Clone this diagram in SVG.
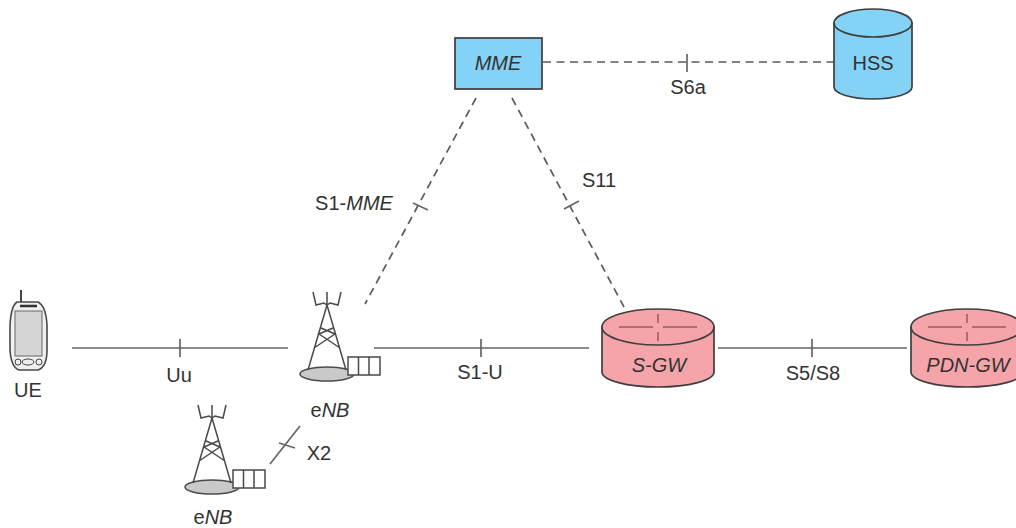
<svg xmlns="http://www.w3.org/2000/svg" width="1016" height="528" viewBox="0 0 1016 528">
<style>
text{font-family:"Liberation Sans",Arial,sans-serif;font-size:20px;fill:#333;text-anchor:middle}
.i{font-style:italic}
.l{stroke:#666;stroke-width:1.7;fill:none}
.d{stroke:#5a5a5a;stroke-width:1.7;fill:none;stroke-dasharray:8 5.5}
.o{stroke:#3e3e3e;stroke-width:1.7}
.t{stroke:#4a4a4a;stroke-width:1.5;fill:none}
.blue{fill:#84d2f6}
.red{fill:#f5a5a9}
</style>
<defs>
<g id="tower">
<ellipse cx="0" cy="69" rx="27" ry="7" fill="#c9c9c9" stroke="#4a4a4a" stroke-width="1.5"/>
<path class="t" d="M0 0L-19 65M0 0L19 65M-6 23L8 29M6 23L-8 29M-8 29L13 43M8 29L-13 43"/>
<path class="t" d="M-14 -13L-11 0L-3 -2L0 0L3 -2L11 0L14 -13M0 -13V-1"/>
<rect x="21" y="52" width="32" height="18" fill="#fff" stroke="#4a4a4a" stroke-width="1.5"/>
<path class="t" d="M31.500 52V70M42 52V70"/>
</g>
<g id="drum">
<path d="M-56 0V45A56 15 0 0 0 56 45V0Z" class="red o"/>
<ellipse cx="0" cy="0" rx="56" ry="18" class="red o"/>
<path d="M-39 0H-5M5 0H39M0 -13V-4M0 5V14" stroke="#9a5a60" stroke-width="1.5" fill="none"/>
</g>
</defs>
<g id="connectors">
<path class="l" d="M72 348H288M180 339V357"/>
<path class="l" d="M374 348H589M481 339V357"/>
<path class="l" d="M718 348H907M812 339V357"/>
<path class="l" d="M270 464L300 426M279 443L295 448"/>
<path class="d" d="M543 62H834"/>
<path class="l" d="M687 54V72"/>
<path class="d" d="M476 98L365 304"/>
<path class="l" d="M413 203L428 210"/>
<path class="d" d="M512 98L624 307"/>
<path class="l" d="M564 209L579 201"/>
</g>
<g id="ue">
<path d="M21 290V303" stroke="#444" stroke-width="2" fill="none"/>
<path d="M17 302H38Q46 306 47 325V350Q47 367 38 370H19Q11 367 10 350V325Q11 306 17 302Z" fill="#f0f0f0" stroke="#4a4a4a" stroke-width="1.6"/>
<rect x="15" y="311" width="27" height="45" fill="#d6d6d6" stroke="#666"/>
<path d="M20 306H37" stroke="#333" stroke-width="2.500"/>
<ellipse cx="28" cy="362" rx="6" ry="3" fill="#eee" stroke="#444"/>
<circle cx="18" cy="362" r="3" fill="#eee" stroke="#444"/>
<circle cx="39" cy="362" r="3" fill="#eee" stroke="#444"/>
<text x="28" y="397">UE</text>
</g>
<g id="enb1">
<use href="#tower" x="327" y="305"/>
<text x="330" y="417">e<tspan class="i">NB</tspan></text>
</g>
<g id="enb2">
<use href="#tower" x="212" y="418"/>
<text x="213" y="523.500">e<tspan class="i">NB</tspan></text>
</g>
<g id="mme">
<rect x="455" y="38" width="87" height="51" class="blue o"/>
<text x="498" y="70" class="i">MME</text>
</g>
<g id="hss">
<path d="M834 23V87A39 12 0 0 0 912 87V23Z" class="blue o"/>
<ellipse cx="873" cy="23" rx="39" ry="14" class="blue o"/>
<text x="873" y="70">HSS</text>
</g>
<g id="sgw">
<use href="#drum" x="658" y="327"/>
<text x="659" y="372" class="i">S-GW</text>
</g>
<g id="pdngw">
<use href="#drum" x="967" y="327"/>
<text x="968" y="372" class="i">PDN-GW</text>
</g>
<g id="labels">
<text x="179" y="382">Uu</text>
<text x="480" y="379">S1-U</text>
<text x="813" y="380">S5/S8</text>
<text x="688" y="94">S6a</text>
<text x="354" y="210">S1-<tspan class="i">MME</tspan></text>
<text x="599" y="187">S11</text>
<text x="319" y="460">X2</text>
</g>
</svg>
